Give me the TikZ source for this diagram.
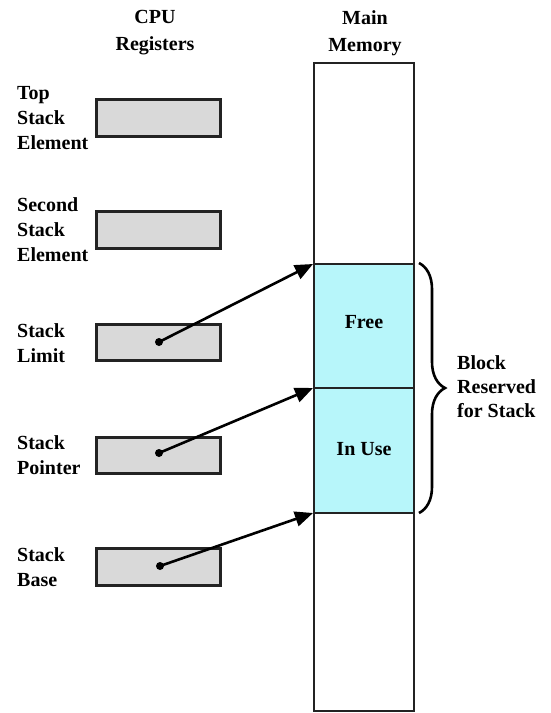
\documentclass[tikz,border=0pt]{standalone}
\usepackage{fontspec}
\setmainfont{Liberation Serif}
\usetikzlibrary{arrows.meta,decorations.pathreplacing}
\definecolor{regfill}{RGB}{217,217,217}
\definecolor{stackfill}{RGB}{183,246,250}
\definecolor{edge}{RGB}{35,35,35}
\tikzset{
  lbl/.style={font=\fontsize{20}{25}\selectfont\bfseries, inner sep=0pt, align=left, anchor=west},
  ttl/.style={font=\fontsize{20}{27}\selectfont\bfseries, inner sep=0pt, align=center},
  reg/.style={draw=edge, line width=3pt, fill=regfill},
  mem/.style={draw=edge, line width=2.6pt},
  ptr/.style={line width=2.6pt, -{Triangle[length=18pt,width=15pt]}},
  dotm/.style={circle, fill=black, inner sep=0pt, minimum size=8pt}
}
\begin{document}
\begin{tikzpicture}[x=1pt,y=-1pt]
\useasboundingbox (0,0) rectangle (550,713);
% titles
\node[ttl] (tcpu) at (155,33) {CPU\\Registers};
\node[ttl] (tmem) at (365,33) {Main\\Memory};
% main memory
\draw[mem, fill=white] (314,63) rectangle (414,711);
\draw[mem, fill=stackfill] (314,264) rectangle (414,388);
\draw[mem, fill=stackfill] (314,388) rectangle (414,513);
\coordinate (mtop) at (313,264);
\coordinate (mmid) at (313,388);
\coordinate (mbot) at (313,513);
\node[font=\fontsize{20}{25}\selectfont\bfseries, inner sep=0pt] (free) at (364,322) {Free};
\node[font=\fontsize{20}{25}\selectfont\bfseries, inner sep=0pt] (inuse) at (364,449) {In Use};
% registers
\draw[reg] (96,99) rectangle (220,136);
\draw[reg] (96,211) rectangle (220,248);
\draw[reg] (96,324) rectangle (220,360);
\draw[reg] (96,437) rectangle (220,473);
\draw[reg] (96,548) rectangle (220,585);
% labels
\node[lbl] (l1) at (17,118) {Top\\Stack\\Element};
\node[lbl] (l2) at (17,230) {Second\\Stack\\Element};
\node[lbl] (l3) at (17,343) {Stack\\Limit};
\node[lbl] (l4) at (17,455) {Stack\\Pointer};
\node[lbl] (l5) at (17,567) {Stack\\Base};
% pointer dots and arrows
\node[dotm] (d1) at (159,342) {};
\node[dotm] (d2) at (159,453) {};
\node[dotm] (d3) at (160,566) {};
\draw[ptr] (d1.center) -- (mtop);
\draw[ptr] (d2.center) -- (mmid);
\draw[ptr] (d3.center) -- (mbot);
% brace
\coordinate (bt) at (419,263);
\coordinate (bb) at (419,513);
\draw[line width=2.6pt, decorate, decoration={brace, amplitude=26pt}] (bt) -- (bb);
\node[font=\fontsize{20}{24}\selectfont\bfseries, inner sep=0pt, align=left, anchor=west] (blk) at (457,387) {Block\\Reserved\\for Stack};
\end{tikzpicture}
\end{document}
